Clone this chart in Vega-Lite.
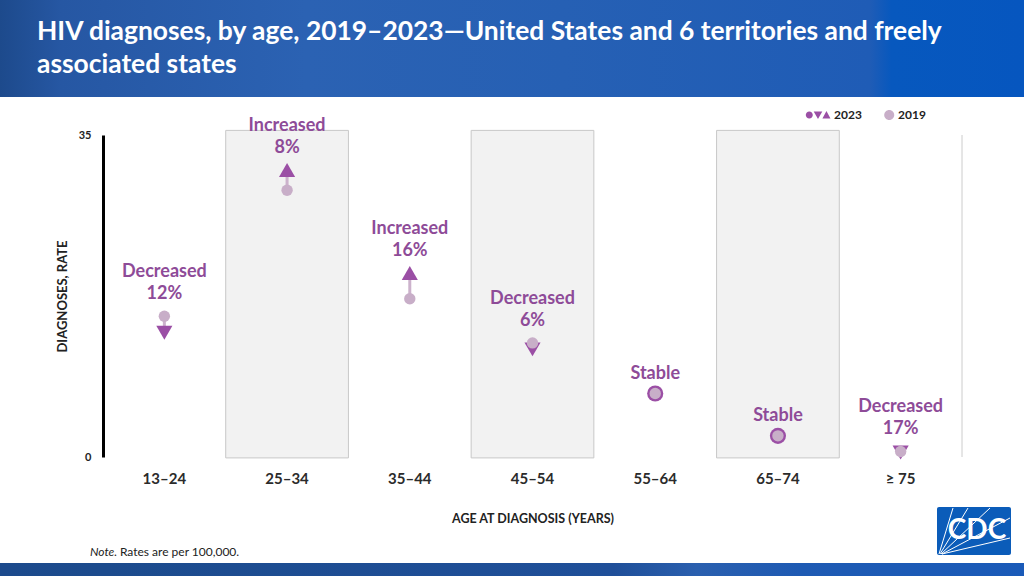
{
  "$schema": "https://vega.github.io/schema/vega-lite/v6.json",
  "padding": 0,
  "background": "white",
  "columns": 2,
  "spacing": {"row": 38, "column": 0},
  "bounds": "flush",
  "config": {"view": {"stroke": null}, "font": "Lato"},
  "resolve": {"scale": {"color": "independent", "shape": "independent", "size": "independent"}, "legend": {"color": "independent"}},
  "datasets": {
    "rates": [
      {"age": "13–24", "year": "2019", "rate": 15.3, "trend": "Decreased", "pct": "12%"},
      {"age": "13–24", "year": "2023", "rate": 13.5, "trend": "Decreased", "pct": "12%"},
      {"age": "25–34", "year": "2019", "rate": 29.0, "trend": "Increased", "pct": "8%"},
      {"age": "25–34", "year": "2023", "rate": 31.2, "trend": "Increased", "pct": "8%"},
      {"age": "35–44", "year": "2019", "rate": 17.2, "trend": "Increased", "pct": "16%"},
      {"age": "35–44", "year": "2023", "rate": 20.0, "trend": "Increased", "pct": "16%"},
      {"age": "45–54", "year": "2019", "rate": 12.4, "trend": "Decreased", "pct": "6%"},
      {"age": "45–54", "year": "2023", "rate": 11.7, "trend": "Decreased", "pct": "6%"},
      {"age": "55–64", "year": "2019", "rate": 6.9, "trend": "Stable", "pct": null},
      {"age": "55–64", "year": "2023", "rate": 6.9, "trend": "Stable", "pct": null},
      {"age": "65–74", "year": "2019", "rate": 2.3, "trend": "Stable", "pct": null},
      {"age": "65–74", "year": "2023", "rate": 2.3, "trend": "Stable", "pct": null},
      {"age": "≥ 75", "year": "2019", "rate": 0.6, "trend": "Decreased", "pct": "17%"},
      {"age": "≥ 75", "year": "2023", "rate": 0.5, "trend": "Decreased", "pct": "17%"}
    ],
    "titleLines": [
      {"line": 1, "text": "HIV diagnoses, by age, 2019–2023—United States and 6 territories and freely"},
      {"line": 2, "text": "associated states"}
    ]
  },
  "concat": [
    {
      "width": 103,
      "height": 97,
      "data": {"values": [{}]},
      "mark": {"type": "rect", "color": {"gradient": "linear", "x1": 0, "x2": 1, "y1": 0, "y2": 0, "stops": [
        {"offset": 0, "color": "#1d4a8c"},
        {"offset": 0.59, "color": "#2657a3"},
        {"offset": 1, "color": "#2759a6"}
      ]}}
    },
    {
      "width": 921,
      "height": 97,
      "layer": [
        {
          "data": {"values": [{}]},
          "mark": {"type": "rect", "color": {"gradient": "linear", "x1": 0, "x2": 1, "y1": 0, "y2": 0, "stops": [
            {"offset": 0, "color": "#2759a6"},
            {"offset": 0.22, "color": "#2b62b3"},
            {"offset": 0.5, "color": "#2660b4"},
            {"offset": 0.833, "color": "#1f5cb6"},
            {"offset": 0.856, "color": "#0758be"},
            {"offset": 1, "color": "#0656bf"}
          ]}}
        },
        {
          "data": {"name": "titleLines"},
          "mark": {"type": "text", "align": "left", "baseline": "middle", "color": "white", "fontSize": 26.4, "fontWeight": "bold", "font": "Lato"},
          "encoding": {
            "x": {"datum": -66, "type": "quantitative", "scale": {"domain": [0, 921], "nice": false, "zero": false}, "axis": null},
            "y": {"field": "line", "type": "ordinal", "scale": {"type": "point", "padding": 0.96}, "axis": null},
            "text": {"field": "text"}
          }
        }
      ]
    },
    {
      "width": 103,
      "height": 322,
      "data": {"values": []},
      "mark": "point"
    },
    {
      "width": 859,
      "height": 322,
      "layer": [
        {
          "data": {"values": [{"age": "25–34"}, {"age": "45–54"}, {"age": "65–74"}]},
          "mark": {"type": "rect", "fill": "#f2f2f2", "stroke": "#c8c8c8", "strokeWidth": 1},
          "encoding": {
            "x": {"field": "age", "type": "nominal"},
            "y": {"datum": 35.5, "type": "quantitative"},
            "y2": {"datum": -0.1}
          }
        },
        {
          "data": {"values": [{"age": "≥ 75"}]},
          "mark": {"type": "rule", "color": "#cccccc", "strokeWidth": 1},
          "encoding": {
            "x": {"field": "age", "type": "nominal", "bandPosition": 1},
            "y": {"datum": 35, "type": "quantitative"},
            "y2": {"datum": 0}
          }
        },
        {
          "data": {"name": "rates"},
          "mark": {"type": "rule", "color": "#ccb2cc", "strokeWidth": 3},
          "encoding": {
            "x": {"field": "age", "type": "nominal"},
            "y": {"aggregate": "min", "field": "rate", "type": "quantitative"},
            "y2": {"aggregate": "max", "field": "rate"}
          }
        },
        {
          "data": {"name": "rates"},
          "transform": [{"filter": "datum.year === '2023'"}],
          "mark": {"type": "point", "filled": true, "opacity": 1},
          "encoding": {
            "x": {"field": "age", "type": "nominal"},
            "y": {"field": "rate", "type": "quantitative"},
            "shape": {"field": "trend", "type": "nominal", "scale": {"domain": ["Increased", "Decreased", "Stable"], "range": ["triangle-up", "triangle-down", "circle"]}, "legend": null},
            "size": {"field": "trend", "type": "nominal", "scale": {"domain": ["Increased", "Decreased", "Stable"], "range": [260, 260, 210]}, "legend": null},
            "color": {
              "field": "year", "type": "nominal",
              "scale": {"domain": ["2023", "2019"], "range": ["#9b4fa5", "#c8aec8"]},
              "legend": {
                "orient": "none", "legendX": 702, "legendY": -33, "direction": "horizontal", "title": null,
                "labelFont": "Lato", "labelFontSize": 12, "labelFontWeight": "bold", "labelColor": "#222222",
                "symbolSize": 676, "symbolOpacity": 1, "symbolStrokeWidth": 0, "labelOffset": 3, "columnPadding": 7,
                "encode": {"symbols": {"update": {"shape": {"signal": "datum.value === '2023' ? 'M-0.94,0A0.27,0.27,0,1,0,-0.4,0A0.27,0.27,0,1,0,-0.94,0ZM-0.33,-0.27L0.33,-0.27L0,0.3ZM0.34,0.27L0.96,0.27L0.65,-0.3Z' : 'M0.17,0A0.385,0.385,0,1,0,0.94,0A0.385,0.385,0,1,0,0.17,0Z'"}}}}
              }
            }
          }
        },
        {
          "data": {"name": "rates"},
          "transform": [{"filter": "datum.year === '2019'"}],
          "mark": {"type": "circle", "size": 130, "opacity": 1},
          "encoding": {
            "x": {"field": "age", "type": "nominal"},
            "y": {"field": "rate", "type": "quantitative"},
            "color": {"field": "year", "type": "nominal"}
          }
        },
        {
          "data": {"name": "rates"},
          "transform": [{"filter": "datum.pct != null"}],
          "mark": {"type": "text", "baseline": "bottom", "dy": -13, "fontSize": 18, "fontWeight": "bold", "color": "#8e4b98", "font": "Lato"},
          "encoding": {
            "x": {"field": "age", "type": "nominal"},
            "y": {"aggregate": "max", "field": "rate", "type": "quantitative"},
            "text": {"field": "pct"}
          }
        },
        {
          "data": {"name": "rates"},
          "transform": [{"filter": "datum.pct != null"}],
          "mark": {"type": "text", "baseline": "bottom", "dy": -35, "fontSize": 18, "fontWeight": "bold", "color": "#8e4b98", "font": "Lato"},
          "encoding": {
            "x": {"field": "age", "type": "nominal"},
            "y": {"aggregate": "max", "field": "rate", "type": "quantitative"},
            "text": {"field": "trend"}
          }
        },
        {
          "data": {"name": "rates"},
          "transform": [{"filter": "datum.pct == null"}],
          "mark": {"type": "text", "baseline": "bottom", "dy": -11, "fontSize": 18, "fontWeight": "bold", "color": "#8e4b98", "font": "Lato"},
          "encoding": {
            "x": {"field": "age", "type": "nominal"},
            "y": {"aggregate": "max", "field": "rate", "type": "quantitative"},
            "text": {"field": "trend"}
          }
        }
      ],
      "encoding": {
        "x": {
          "field": "age", "type": "nominal",
          "scale": {"domain": ["13–24", "25–34", "35–44", "45–54", "55–64", "65–74", "≥ 75"], "paddingInner": 0, "paddingOuter": 0},
          "axis": {"title": "AGE AT DIAGNOSIS (YEARS)", "labelAngle": 0, "domain": false, "ticks": false, "labelPadding": 14, "labelFont": "Lato", "labelFontSize": 15, "labelFontWeight": "bold", "labelColor": "#2b2b2b", "titleFont": "Lato", "titleFontSize": 12.5, "titleFontWeight": "bold", "titleColor": "#222222", "titlePadding": 26}
        },
        "y": {
          "type": "quantitative",
          "scale": {"domain": [0, 35], "nice": false},
          "axis": {"values": [0, 35], "title": "DIAGNOSES, RATE", "grid": false, "ticks": false, "domainColor": "#000000", "domainWidth": 3, "labelFont": "Lato", "labelFontSize": 11, "labelFontWeight": "bold", "labelColor": "#222222", "labelPadding": 12, "labelFlush": false, "titleFont": "Lato", "titleFontSize": 13, "titleFontWeight": "bold", "titleColor": "#222222", "titlePadding": 9}
        }
      }
    },
    {
      "width": 103,
      "height": 81,
      "data": {"values": [{}]},
      "mark": {"type": "rect", "color": {"gradient": "linear", "x1": 0, "x2": 1, "y1": 0, "y2": 0, "stops": [
        {"offset": 0, "color": "#1c4a8c"},
        {"offset": 1, "color": "#1c4b8d"}
      ]}},
      "encoding": {
        "y": {"datum": 0, "type": "quantitative", "scale": {"domain": [0, 81], "nice": false, "zero": false}, "axis": null},
        "y2": {"datum": 13}
      }
    },
    {
      "width": 921,
      "height": 81,
      "layer": [
        {
          "data": {"values": [{}]},
          "mark": {"type": "rect", "color": {"gradient": "linear", "x1": 0, "x2": 1, "y1": 0, "y2": 0, "stops": [
            {"offset": 0, "color": "#1c4b8d"},
            {"offset": 0.555, "color": "#1f4f99"},
            {"offset": 0.644, "color": "#2a5fae"},
            {"offset": 0.756, "color": "#1e5ab3"},
            {"offset": 1, "color": "#1a5ab8"}
          ]}},
          "encoding": {
            "y": {"datum": 0, "type": "quantitative", "scale": {"domain": [0, 81], "nice": false, "zero": false}, "axis": null},
            "y2": {"datum": 13}
          }
        },
        {
          "data": {"values": [{"x0": 834, "x1": 908, "y0": 21, "y1": 69}]},
          "mark": {"type": "rect", "color": "#0b5cb9", "cornerRadius": 2},
          "encoding": {
            "x": {"field": "x0", "type": "quantitative", "scale": {"domain": [0, 921], "nice": false, "zero": false}, "axis": null},
            "x2": {"field": "x1"},
            "y": {"field": "y0", "type": "quantitative"},
            "y2": {"field": "y1"}
          }
        },
        {
          "data": {"values": [
            {"x0": 836, "y0": 22, "x1": 850, "y1": 68},
            {"x0": 837, "y0": 22, "x1": 865, "y1": 68},
            {"x0": 838, "y0": 22, "x1": 887, "y1": 68},
            {"x0": 839, "y0": 22, "x1": 907, "y1": 58},
            {"x0": 839, "y0": 22, "x1": 907, "y1": 38}
          ]},
          "mark": {"type": "rule", "color": "white", "strokeWidth": 1},
          "encoding": {
            "x": {"field": "x0", "type": "quantitative"},
            "x2": {"field": "x1"},
            "y": {"field": "y0", "type": "quantitative"},
            "y2": {"field": "y1"}
          }
        },
        {
          "data": {"values": [{"t": "CDC", "x": 874, "y": 45}]},
          "mark": {"type": "text", "color": "white", "fontSize": 28, "fontWeight": "bold", "font": "Lato", "align": "center", "baseline": "middle"},
          "encoding": {
            "x": {"field": "x", "type": "quantitative"},
            "y": {"field": "y", "type": "quantitative"},
            "text": {"field": "t"}
          }
        },
        {
          "data": {"values": [{"t": "Note", "x": -13, "y": 24}]},
          "mark": {"type": "text", "color": "#222222", "fontSize": 12, "fontStyle": "italic", "font": "Lato", "align": "left", "baseline": "middle"},
          "encoding": {
            "x": {"field": "x", "type": "quantitative"},
            "y": {"field": "y", "type": "quantitative"},
            "text": {"field": "t"}
          }
        },
        {
          "data": {"values": [{"t": ". Rates are per 100,000.", "x": 11, "y": 24}]},
          "mark": {"type": "text", "color": "#222222", "fontSize": 12, "font": "Lato", "align": "left", "baseline": "middle"},
          "encoding": {
            "x": {"field": "x", "type": "quantitative"},
            "y": {"field": "y", "type": "quantitative"},
            "text": {"field": "t"}
          }
        }
      ]
    }
  ]
}
